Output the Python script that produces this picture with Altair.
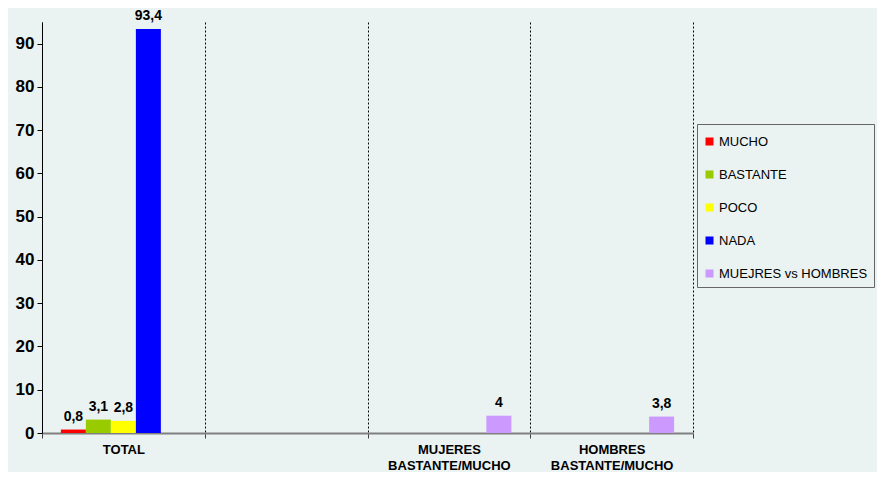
import altair as alt
import pandas as pd

categories = ["TOTAL", " ", "MUJERES|BASTANTE/MUCHO", "HOMBRES|BASTANTE/MUCHO"]
series = ["MUCHO", "BASTANTE", "POCO", "NADA", "MUEJRES vs HOMBRES"]
colors = ["#FF0000", "#99CC00", "#FFFF00", "#0000FF", "#CC99FF"]
total_series = ["MUCHO", "BASTANTE", "POCO", "NADA"]
total_values = [0.8, 3.1, 2.8, 93.4]
gender_categories = ["MUJERES|BASTANTE/MUCHO", "HOMBRES|BASTANTE/MUCHO"]
gender_values = [4, 3.8]

rows = []
for s, v in zip(total_series, total_values):
    rows.append({"category": "TOTAL", "series": s, "value": v})
for c, v in zip(gender_categories, gender_values):
    rows.append({"category": c, "series": "MUEJRES vs HOMBRES", "value": v})
df = pd.DataFrame(rows)

FONT = "Liberation Sans"
BG = "#EAF2F2"

x_enc = alt.X(
    "category:N",
    sort=categories,
    scale=alt.Scale(domain=categories, paddingInner=0, paddingOuter=0),
    axis=alt.Axis(
        title=None,
        labelAngle=0,
        tickBand="extent",
        grid=True,
        gridDash=[2, 2],
        gridColor="#000000",
        gridWidth=1,
        domainColor="#808080",
        domainWidth=2,
        tickColor="#404040",
        tickSize=5,
        labelFont=FONT,
        labelFontSize=13,
        labelFontWeight="bold",
        labelColor="#000000",
        labelPadding=5,
        labelLineHeight=16,
        labelExpr="split(datum.label, '|')",
    ),
)
xo_enc = alt.XOffset(
    "series:N",
    scale=alt.Scale(domain=series, paddingInner=0, paddingOuter=0.755),
)
y_enc = alt.Y(
    "value:Q",
    scale=alt.Scale(domain=[0, 95], nice=False),
    axis=alt.Axis(
        title=None,
        values=[0, 10, 20, 30, 40, 50, 60, 70, 80, 90],
        grid=False,
        domainColor="#000000",
        tickColor="#000000",
        tickSize=5,
        labelFont=FONT,
        labelFontSize=17,
        labelFontWeight="bold",
        labelColor="#000000",
        labelPadding=3,
    ),
)

base = alt.Chart(df).encode(x=x_enc, xOffset=xo_enc, y=y_enc)

bars = base.mark_bar().encode(
    color=alt.Color(
        "series:N",
        scale=alt.Scale(domain=series, range=colors),
        legend=alt.Legend(
            title=" ",
            titleFontSize=1,
            titlePadding=4,
            orient="none",
            legendX=655,
            legendY=102,
            strokeColor="#666666",
            fillColor=BG,
            padding=6,
            symbolType="square",
            symbolSize=64,
            symbolStrokeWidth=0,
            labelFont=FONT,
            labelFontSize=13,
            labelColor="#000000",
            labelOffset=3,
            rowPadding=19,
        ),
    )
)

labels = base.mark_text(
    font=FONT, fontSize=14, fontWeight="bold", color="#000000",
    baseline="alphabetic", dy=-9,
).transform_calculate(
    label="replace(toString(datum.value), '.', ',')"
).encode(text="label:N")

chart = alt.layer(bars, labels).properties(
    width=651,
    height=411,
    autosize=alt.AutoSizeParams(type="none"),
    padding={"left": 34, "top": 14, "right": 184, "bottom": 39},
    background=BG,
).configure_view(stroke=None)

chart.save("out.html", embed_options={"renderer": "svg", "actions": False})
